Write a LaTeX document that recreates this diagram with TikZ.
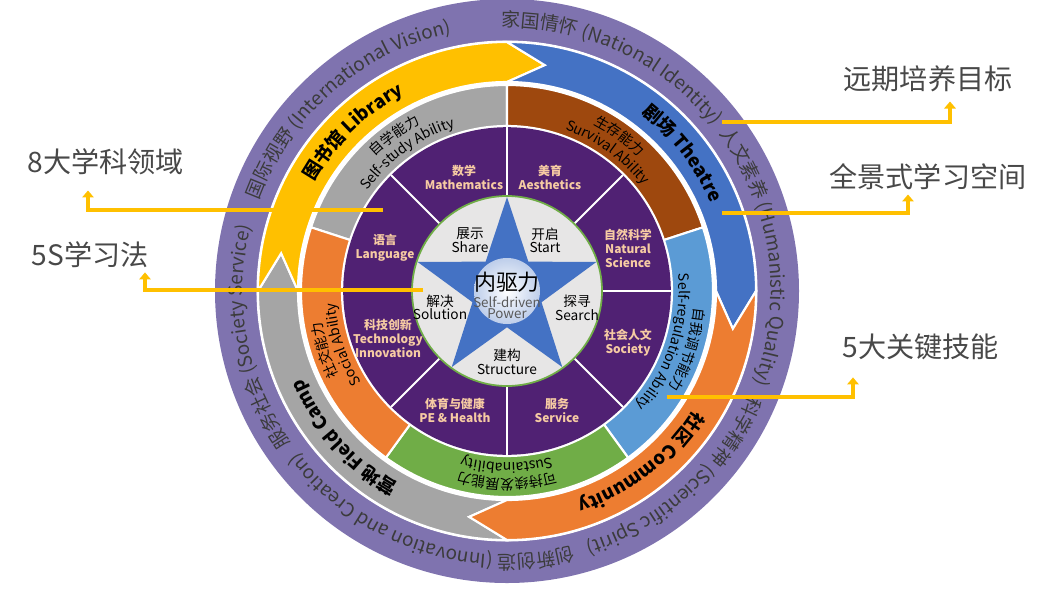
\documentclass[tikz,border=0pt]{standalone}
\usepackage{fontspec}
\setmainfont{Noto Sans CJK SC}
\usetikzlibrary{arrows.meta,decorations.text,calc}

\definecolor{ringpurple}{HTML}{7F73AF}
\definecolor{libyellow}{HTML}{FFC000}
\definecolor{theatreblue}{HTML}{4472C4}
\definecolor{commorange}{HTML}{ED7D31}
\definecolor{campgray}{HTML}{A5A5A5}
\definecolor{survbrown}{HTML}{9E480E}
\definecolor{regblue}{HTML}{5B9BD5}
\definecolor{sustgreen}{HTML}{70AD47}
\definecolor{subjpurple}{HTML}{502173}
\definecolor{subjtext}{HTML}{F6CBA3}
\definecolor{coregray}{HTML}{E7E6E6}
\definecolor{ringtext}{HTML}{3B3B3B}
\definecolor{labeltext}{HTML}{484848}
\definecolor{leadercol}{HTML}{FFC000}

% text on a clockwise arc: radius, mid angle, half span, format, text
\newcommand\arclabel[5]{%
  \path[decorate, decoration={text along path, text align=center,
      text={|#4|#5}}]
    ({#2+#3}:#1) arc[start angle={#2+#3}, end angle={#2-#3}, radius=#1];}

\begin{document}
\begin{tikzpicture}[x=0.02cm, y=0.02cm,
    band/.style={draw=white, line width=1.2pt},
    subj/.style={font=\fontsize{6.8}{8}\selectfont\bfseries, text=subjtext, align=center, inner sep=0},
    stage/.style={font=\fontsize{7.8}{7.6}\selectfont, align=center, inner sep=0},
    lbl/.style={font=\fontsize{16}{18}\selectfont, text=labeltext, inner sep=0},
    leader/.style={draw=leadercol, line width=2.6pt, -{Triangle[width=6.5pt,length=4pt]}}]
  \useasboundingbox (-507,-298) rectangle (543,291);

  % outer ring: long-term goals
  \fill[ringpurple] (0,0) circle[radius=292];
  \fill[white] (0,0) circle[radius=250.5];

  % learning spaces, arrows running clockwise
  \foreach \a/\b/\col in {-90/-180/campgray, 180/90/libyellow, 90/0/theatreblue, 0/-90/commorange}
    \path[band, fill=\col] (\a:249) arc[start angle=\a, end angle=\b, radius=249]
      -- ({\b-9.5}:229) -- (\b:209) arc[start angle=\b, end angle=\a, radius=209]
      -- ({\a-9.5}:229) -- cycle;

  % key abilities
  \fill[white] (0,0) circle[radius=207.5];
  \foreach \a/\col in {90/campgray, 18/survbrown, -54/regblue, -126/sustgreen, -198/commorange}
    \path[band, fill=\col] (\a:206) arc[start angle=\a, end angle={\a+72}, radius=206]
      -- ({\a+72}:165) arc[start angle={\a+72}, end angle=\a, radius=165] -- cycle;

  % subject areas
  \fill[subjpurple] (0,0) circle[radius=163.8];
  \foreach \a in {0,45,...,315}
    \draw[white, line width=1.2pt] (\a:95) -- (\a:164);

  % core with star
  \path[draw=sustgreen, line width=1pt, fill=coregray] (0,0) circle[radius=95];
  \fill[theatreblue] (90:94) \foreach \k in {1,...,5} { -- ({90+72*\k-36}:36.3) -- ({90+72*\k}:94) } -- cycle;
  \shade[inner color=white, outer color=theatreblue!35!white] (0,0) circle[radius=33];

  % ring texts
  \arclabel{264}{131}{45}{\color{ringtext}\fontsize{10.8}{12}\selectfont}{国际视野 (International Vision)}
  \arclabel{264}{65}{45}{\color{ringtext}\fontsize{10.8}{12}\selectfont}{家国情怀 (National Identity)}
  \arclabel{264}{8}{45}{\color{ringtext}\fontsize{10.8}{12}\selectfont}{人文素养 (Humanistic Quality)}
  \arclabel{264}{-48}{45}{\color{ringtext}\fontsize{10.8}{12}\selectfont}{科学精神 (Scientific Spirit)}
  \arclabel{264}{-109}{45}{\color{ringtext}\fontsize{10.8}{12}\selectfont}{创新创造 (Innovation and Creation)}
  \arclabel{264}{-169.5}{45}{\color{ringtext}\fontsize{10.8}{12}\selectfont}{服务社会 (Society Service)}

  \arclabel{222}{134}{30}{\bfseries\fontsize{10.5}{12}\selectfont}{图书馆 Library}
  \arclabel{222}{38}{30}{\bfseries\fontsize{10.5}{12}\selectfont}{剧场 Theatre}
  \arclabel{222}{-52}{30}{\bfseries\fontsize{10.5}{12}\selectfont}{社区 Community}
  \arclabel{222}{-138}{30}{\bfseries\fontsize{10.5}{12}\selectfont}{营地 Field Camp}

  \arclabel{188}{126}{34}{\fontsize{8}{9}\selectfont}{自学能力}
  \arclabel{172}{126}{34}{\fontsize{8}{9}\selectfont}{Self-study Ability}
  \arclabel{188}{54}{34}{\fontsize{8}{9}\selectfont}{生存能力}
  \arclabel{172}{54}{34}{\fontsize{8}{9}\selectfont}{Survival Ability}
  \arclabel{188}{-18}{34}{\fontsize{8}{9}\selectfont}{自我调节能力}
  \arclabel{172}{-18}{34}{\fontsize{8}{9}\selectfont}{Self-regulation Ability}
  \arclabel{188}{-90}{34}{\fontsize{8}{9}\selectfont}{可持续发展能力}
  \arclabel{172}{-90}{34}{\fontsize{8}{9}\selectfont}{Sustainability}
  \arclabel{188}{-162}{34}{\fontsize{8}{9}\selectfont}{社交能力}
  \arclabel{172}{-162}{34}{\fontsize{8}{9}\selectfont}{Social Ability}

  % subject labels
  \node[subj] (math)  at (-43,114)  {数学\\Mathematics};
  \node[subj] (aesth) at (43,114)   {美育\\Aesthetics};
  \node[subj] (nat)   at (121,43)   {自然科学\\Natural\\Science};
  \node[subj] (soc)   at (121,-52)  {社会人文\\Society};
  \node[subj] (serv)  at (50,-119)  {服务\\Service};
  \node[subj] (pe)    at (-52,-119) {体育与健康\\PE \& Health};
  \node[subj] (tech)  at (-119,-47) {科技创新\\Technology\\Innovation};
  \node[subj] (lang)  at (-122,43)  {语言\\Language};

  % 5S stages
  \node[stage] (share)     at (-37,51)  {展示\\Share};
  \node[stage] (start)     at (38,51)   {开启\\Start};
  \node[stage] (solution)  at (-67,-16) {解决\\Solution};
  \node[stage] (search)    at (70,-17)  {探寻\\Search};
  \node[stage] (structure) at (0,-71)   {建构\\Structure};
  \node[font=\fontsize{12.5}{13}\selectfont, inner sep=0] (core) at (0,9) {内驱力};
  \node[font=\fontsize{7.6}{6.6}\selectfont, text=black!65, align=center, inner sep=0] (corept) at (0,-16.5) {Self-driven\\Power};

  % call-outs
  \node[lbl] (lbl8)    at (-401,129) {8大学科领域};
  \node[lbl] (lbl5s)   at (-417,36)  {5S学习法};
  \node[lbl] (lblgoal) at (421,212)  {远期培养目标};
  \node[lbl] (lblspace) at (421,114) {全景式学习空间};
  \node[lbl] (lblskill) at (414,-56) {5大关键技能};
  \coordinate (s8) at (-124,81);
  \coordinate (s5s) at (-84,1);
  \coordinate (sgoal) at (215,169);
  \coordinate (sspace) at (215,78);
  \coordinate (sskill) at (160,-106);
  \draw[leader] (s8) -| ([shift={(-18,-15)}]lbl8.south);
  \draw[leader] (s5s) -| ([shift={(55,-4)}]lbl5s.south);
  \draw[leader] (sgoal) -| ([shift={(22,-9)}]lblgoal.south);
  \draw[leader] (sspace) -| ([shift={(-20,-4)}]lblspace.south);
  \draw[leader] (sskill) -| ([shift={(-68,-17)}]lblskill.south);
\end{tikzpicture}
\end{document}
